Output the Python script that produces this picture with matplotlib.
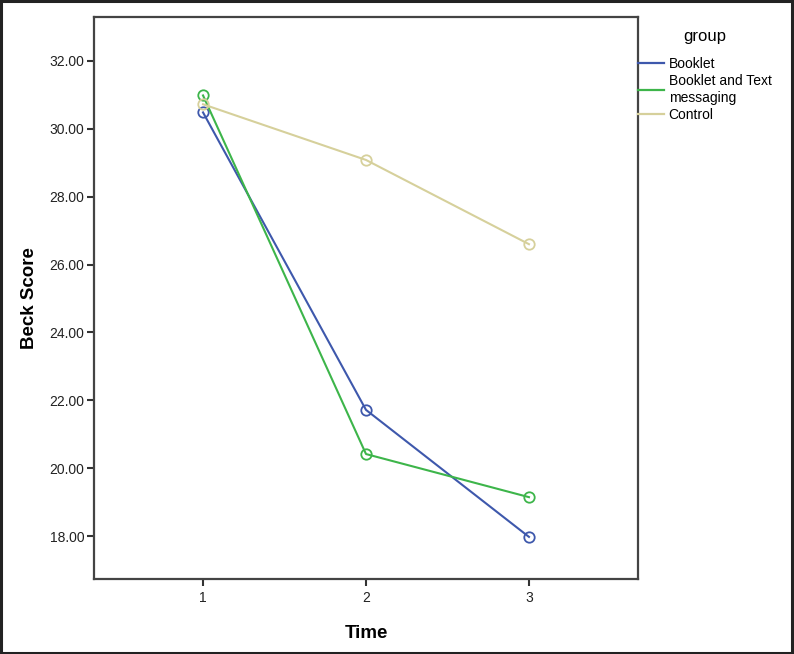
import matplotlib
matplotlib.use("Agg")
import matplotlib.pyplot as plt
from matplotlib.lines import Line2D
from matplotlib.patches import Rectangle

plt.rcParams['font.family'] = ['Liberation Sans', 'DejaVu Sans']

# data
time_points = [1, 2, 3]
booklet = [30.48, 21.72, 17.98]
booklet_text = [30.98, 20.42, 19.15]
control = [30.72, 29.08, 26.60]
group_names = ["Booklet", "Booklet and Text\nmessaging", "Control"]
y_ticks = [18, 20, 22, 24, 26, 28, 30, 32]

colors = ["#3e58ac", "#3db54a", "#d6d09b"]

fig = plt.figure(figsize=(7.94, 6.54), dpi=100)
ax = fig.add_axes([94 / 794, 1 - 579 / 654, (638 - 94) / 794, (579 - 17) / 654])

for series, name, c in zip([booklet, booklet_text, control], group_names, colors):
    ax.plot(time_points, series, color=c, linewidth=1.5, marker="o", markersize=7.5,
            markerfacecolor="none", markeredgecolor=c, markeredgewidth=1.3, label=name)

ax.set_xlim(0.331, 3.669)
ax.set_ylim(16.74, 33.29)
ax.set_xticks(time_points)
ax.set_xticklabels([str(t) for t in time_points])
ax.set_yticks(y_ticks)
ax.set_yticklabels([f"{v:.2f}" for v in y_ticks])
ax.tick_params(direction="out", length=5, width=1.5, color="#333333",
               labelsize=10, labelcolor="#222222", pad=2)
ax.tick_params(axis="x", pad=4)
for s in ax.spines.values():
    s.set_color("#444444")
    s.set_linewidth(1.6)

ax.set_xlabel("Time", fontsize=13.5, fontweight="bold", labelpad=14)
ax.set_ylabel("Beck Score", fontsize=13.5, fontweight="bold", labelpad=8)

handles = [Line2D([], [], color=c, linewidth=1.6) for c in colors]
leg = ax.legend(handles, group_names, loc="upper left", bbox_to_anchor=(1.0, 0.978),
                frameon=False, title="group", fontsize=10, title_fontsize=12,
                handlelength=1.9, handletextpad=0.3, labelspacing=0.25,
                borderaxespad=0, borderpad=0)
leg._legend_box.sep = 9

# outer border of the picture
fig.patches.append(Rectangle((0.001, 0.002), 0.997, 0.996, transform=fig.transFigure,
                             fill=False, edgecolor="#222222", linewidth=2.2))

fig.savefig("out.png", dpi=100)
